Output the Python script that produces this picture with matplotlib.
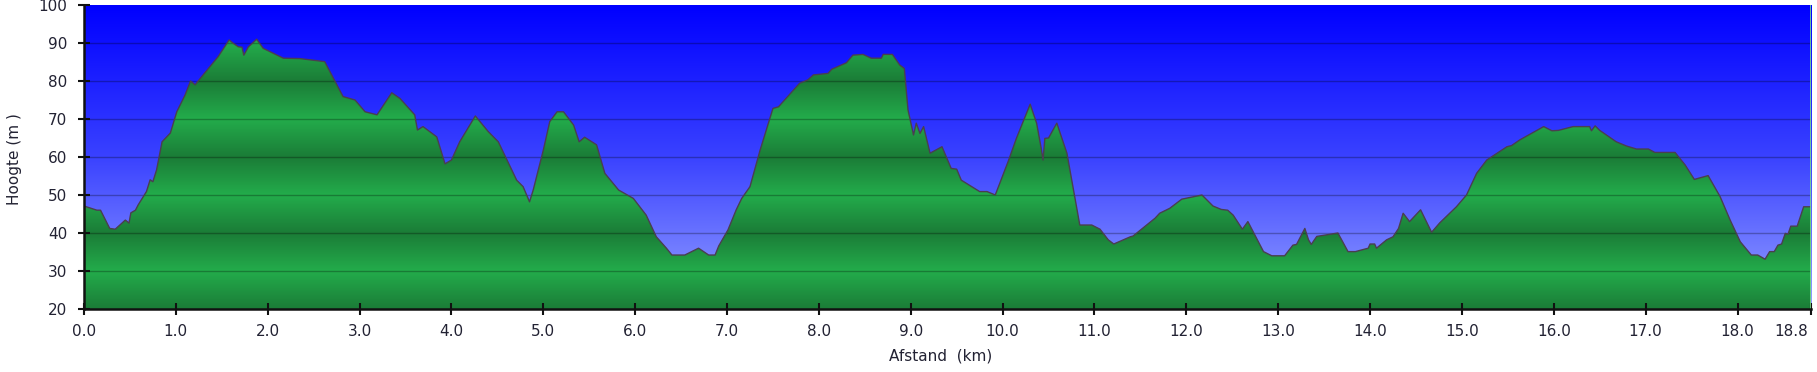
import numpy as np
import matplotlib
matplotlib.use("Agg")
import matplotlib.pyplot as plt
from matplotlib.patches import Polygon
from matplotlib.colors import LinearSegmentedColormap
from matplotlib.transforms import ScaledTranslation

# ---- data (distance in km, elevation in m) ----
dist = [0.00, 0.14, 0.18, 0.28, 0.34, 0.45, 0.49, 0.51, 0.56, 0.59, 0.68, 0.72, 0.75, 0.79,
        0.85, 0.94, 1.01, 1.10, 1.16, 1.21, 1.28, 1.46, 1.58, 1.62, 1.68, 1.72, 1.74, 1.79,
        1.88, 1.95, 2.17, 2.35, 2.62, 2.82, 2.95, 3.06, 3.19, 3.35, 3.44, 3.60, 3.63, 3.69,
        3.84, 3.93, 4.00, 4.09, 4.26, 4.40, 4.51, 4.71, 4.78, 4.85, 4.89, 5.00, 5.07, 5.15,
        5.22, 5.33, 5.39, 5.45, 5.58, 5.67, 5.82, 5.98, 6.12, 6.23, 6.34, 6.40, 6.54, 6.69,
        6.80, 6.87, 6.91, 7.01, 7.10, 7.16, 7.25, 7.36, 7.50, 7.56, 7.79, 7.88, 7.94, 8.10,
        8.14, 8.30, 8.37, 8.48, 8.57, 8.68, 8.70, 8.80, 8.88, 8.93, 8.97, 9.03, 9.06, 9.10,
        9.14, 9.21, 9.34, 9.44, 9.50, 9.55, 9.75, 9.83, 9.92, 10.06, 10.15, 10.30, 10.37,
        10.42, 10.44, 10.46, 10.50, 10.59, 10.70, 10.84, 10.97, 11.06, 11.15, 11.21, 11.39,
        11.42, 11.66, 11.71, 11.82, 11.95, 12.17, 12.29, 12.38, 12.45, 12.51, 12.61, 12.67,
        12.84, 12.93, 13.07, 13.16, 13.20, 13.29, 13.33, 13.36, 13.42, 13.65, 13.76, 13.84,
        13.98, 14.00, 14.05, 14.07, 14.18, 14.25, 14.31, 14.36, 14.43, 14.55, 14.67, 14.76,
        14.94, 15.05, 15.16, 15.27, 15.49, 15.54, 15.63, 15.89, 15.98, 16.05, 16.21, 16.39,
        16.41, 16.45, 16.50, 16.68, 16.79, 16.90, 17.03, 17.10, 17.32, 17.43, 17.53, 17.68,
        17.81, 17.92, 18.03, 18.15, 18.22, 18.30, 18.35, 18.40, 18.44, 18.48, 18.52, 18.55,
        18.58, 18.65, 18.72, 18.80]
elev = [47.1, 46.0, 46.0, 41.2, 41.0, 43.4, 42.6, 45.3, 46.0, 47.4, 50.9, 54.0, 53.5, 56.6,
        64.0, 66.3, 71.9, 76.3, 80.0, 79.0, 81.1, 86.4, 90.8, 90.0, 89.0, 88.9, 86.8, 89.0,
        91.0, 88.6, 86.0, 85.9, 85.1, 75.9, 75.0, 71.9, 71.1, 76.9, 75.4, 71.1, 67.1, 68.0,
        65.3, 58.2, 59.2, 64.0, 70.8, 66.7, 64.0, 53.9, 52.2, 48.2, 51.3, 61.8, 69.3, 71.9,
        71.9, 68.4, 64.0, 65.2, 63.2, 55.7, 51.3, 49.1, 44.7, 39.0, 36.0, 34.2, 34.2, 36.0,
        34.2, 34.2, 36.6, 40.8, 46.1, 49.1, 52.2, 61.8, 72.8, 73.2, 79.4, 80.3, 81.6, 82.0,
        83.1, 84.8, 86.8, 87.0, 86.0, 86.0, 87.0, 87.0, 84.2, 83.3, 72.4, 65.8, 68.9, 66.2,
        68.0, 61.0, 62.7, 57.0, 56.8, 53.9, 50.9, 50.9, 50.0, 58.8, 64.9, 73.9, 68.9,
        62.3, 59.2, 64.9, 65.0, 68.9, 61.0, 42.1, 42.1, 41.0, 38.2, 37.1, 39.0,
        39.2, 43.9, 45.2, 46.5, 48.9, 50.0, 47.1, 46.2, 46.0, 44.7, 41.0, 43.0,
        35.1, 34.0, 34.0, 36.8, 37.0, 41.2, 38.2, 37.0, 39.1, 40.0, 35.1, 35.1,
        36.0, 37.1, 37.1, 36.0, 38.2, 39.0, 41.2, 45.2, 43.0, 46.1, 40.2, 42.7,
        46.9, 50.0, 55.7, 59.2, 62.7, 63.0, 64.5, 68.0, 66.9, 67.0, 68.0, 68.0,
        66.9, 68.2, 67.0, 64.0, 62.9, 62.1, 62.1, 61.2, 61.2, 57.9, 54.1, 55.1,
        49.6, 43.4, 37.7, 34.2, 34.2, 33.1, 35.1, 35.1, 36.8, 37.1, 39.9, 39.7,
        41.8, 41.8, 46.9, 46.9]
xticks = [0, 1, 2, 3, 4, 5, 6, 7, 8, 9, 10, 11, 12, 13, 14, 15, 16, 17, 18, 18.8]
xticklabels = ["0.0", "1.0", "2.0", "3.0", "4.0", "5.0", "6.0", "7.0", "8.0", "9.0", "10.0",
               "11.0", "12.0", "13.0", "14.0", "15.0", "16.0", "17.0", "18.0", "18.8"]
yticks = [20, 30, 40, 50, 60, 70, 80, 90, 100]

W, H = 1817, 372
fig = plt.figure(figsize=(W / 100, H / 100), dpi=100)
fig.patch.set_facecolor("white")
ax = fig.add_axes([84 / W, (H - 309) / H, 1727 / W, 304 / H])
xmin, xmax, ymin, ymax = 0, 18.8, 20, 100
ax.set_xlim(xmin, xmax)
ax.set_ylim(ymin, ymax)

# sky gradient: light at bottom, pure blue at top
sky = LinearSegmentedColormap.from_list("sky", ["#96a2ff", "#3a42ff", "#0000ff"])
grad = np.linspace(0, 1, 400).reshape(-1, 1)
ax.imshow(grad, cmap=sky, aspect="auto", extent=[xmin, xmax, ymin, ymax],
          origin="lower", zorder=0, interpolation="bilinear")

# banded green fill (triangle wave, period 20 m): bright at 30/50/70/90, dark at 20/40/60/80
yy = np.linspace(ymin, ymax, 1600)
tri = 1 - np.abs(((yy - 30) % 20) - 10) / 10.0
bright = np.array([0x23, 0xac, 0x4b]) / 255
dark = np.array([0x1b, 0x7c, 0x37]) / 255
band = bright[None, :] * (1 - tri[:, None]) + dark[None, :] * tri[:, None]
band_img = band[:, None, :]
im = ax.imshow(band_img, aspect="auto", extent=[xmin, xmax, ymin, ymax],
               origin="lower", zorder=1, interpolation="bilinear")
verts = [(dist[0], ymin)] + list(zip(dist, elev)) + [(dist[-1], ymin)]
poly = Polygon(verts, closed=True, facecolor="none", edgecolor="none", zorder=1)
ax.add_patch(poly)
im.set_clip_path(poly)

# grid lines
for g in yticks[1:-1]:
    ax.axhline(g, color=(0, 0, 0, 0.28), lw=1.0, zorder=3)

# profile outline
ax.plot(dist, elev, color="#4a3f4f", lw=1.0, zorder=4)
ax.axvline(18.8, color="#7ee08e", lw=1.2, zorder=4)

for s in ["top", "right"]:
    ax.spines[s].set_visible(False)
for s in ["left", "bottom"]:
    ax.spines[s].set_linewidth(1.8)
    ax.spines[s].set_color("#111111")
    ax.spines[s].set_zorder(5)

ax.set_xticks(xticks)
ax.set_xticklabels(xticklabels)
ax.set_yticks(yticks)
ax.set_yticklabels([str(v) for v in yticks])
ax.tick_params(axis="both", direction="inout", length=8, width=1.5, color="#111111",
               labelsize=11, labelcolor="#222233")
ax.tick_params(axis="y", pad=8.0)
ax.tick_params(axis="x", pad=6.5)

# last x label shifted left to stay inside the figure
last = ax.get_xticklabels()[-1]
last.set_horizontalalignment("right")
last.set_transform(last.get_transform() + ScaledTranslation(-3 / 100, 0, fig.dpi_scale_trans))

fig.text(941 / W, 1 - 356 / H, "Afstand  (km)", ha="center", va="center",
         fontsize=11, color="#222233")
fig.text(14 / W, 1 - 159 / H, "Hoogte (m )", ha="center", va="center", rotation=90,
         fontsize=11, color="#222233")

fig.savefig("out.png", dpi=100)
